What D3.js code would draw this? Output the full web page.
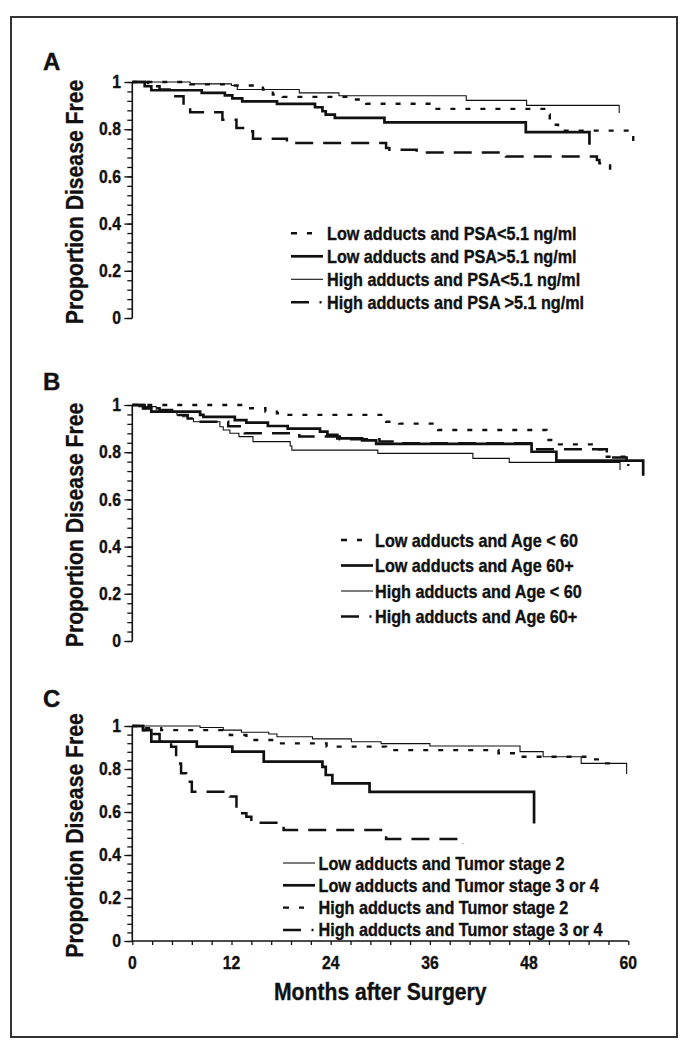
<!DOCTYPE html>
<html><head><meta charset="utf-8">
<script src="https://cdn.jsdelivr.net/npm/d3@7"></script>
<style>body{margin:0;background:#fff}svg{display:block}</style>
</head><body><svg id="c" width="690" height="1050"></svg>
<script>
// ---------- DATA (months after surgery, proportion disease free) ----------
const panelLetters = ["A", "B", "C"];
const xTickValues = [0, 12, 24, 36, 48, 60];
const yTickValues = [0, 0.2, 0.4, 0.6, 0.8, 1];
const yTickLabels = ["0", "0.2", "0.4", "0.6", "0.8", "1"];
const xAxisTitle = "Months after Surgery";
const yAxisTitle = "Proportion Disease Free";

// Panel A
const legendA = ["Low adducts and PSA<5.1 ng/ml", "Low adducts and PSA>5.1 ng/ml",
                 "High adducts and PSA<5.1 ng/ml", "High adducts and PSA >5.1 ng/ml"];
const styleA = ["shortDash", "thick", "thin", "longDash"];
const aLowAdductsLowPSA = [[0,1],[7.0,0.99],[12.0,0.985],[15.8,0.968],[17.0,0.947],[18.2,0.937],[26.9,0.926],[28.3,0.908],[36.2,0.886],[50.0,0.862],[50.5,0.84],[51.0,0.819],[51.5,0.794],[60.6,0.71]];
const aLowAdductsHighPSA = [[0,1],[1.5,0.982],[2.3,0.965],[8.4,0.954],[11.2,0.943],[12.1,0.931],[13.3,0.918],[17.5,0.907],[22.1,0.893],[23.0,0.876],[23.4,0.862],[24.5,0.848],[30.5,0.829],[47.6,0.788],[55.3,0.734]];
const aHighAdductsLowPSA = [[0,1],[7.0,0.992],[12.0,0.985],[12.7,0.968],[20.2,0.954],[25.0,0.942],[40.4,0.922],[47.7,0.901],[58.9,0.869]];
const aHighAdductsHighPSA = [[0,1],[1.9,0.982],[3.3,0.968],[5.0,0.94],[6.2,0.89],[7.0,0.872],[10.9,0.84],[12.6,0.805],[13.8,0.791],[14.6,0.76],[18.7,0.741],[30.7,0.72],[31.1,0.713],[34.4,0.701],[45.2,0.684],[56.2,0.67],[56.5,0.656],[57.8,0.628]];

// Panel B
const legendB = ["Low adducts and Age < 60", "Low adducts and Age 60+",
                 "High adducts and Age < 60", "High adducts and Age 60+"];
const styleB = ["shortDash", "thick", "thin", "longDash"];
const bLowAdductsYoung = [[0,1],[14.1,0.986],[16.1,0.972],[17.5,0.965],[18.7,0.958],[30.7,0.929],[32.3,0.921],[37.0,0.894],[50.1,0.852],[51.0,0.833],[56.2,0.812],[57.4,0.781],[59.8,0.767],[60.0,0.742]];
const bLowAdductsOld = [[0,1],[1.3,0.986],[2.3,0.972],[8.2,0.958],[8.6,0.95],[12.4,0.936],[13.8,0.925],[16.4,0.911],[18.8,0.9],[22.7,0.887],[23.6,0.873],[24.8,0.859],[27.8,0.85],[29.5,0.835],[48.3,0.802],[51.3,0.764],[61.8,0.70]];
const bHighAdductsYoung = [[0,1],[0.8,0.993],[2.9,0.972],[5.4,0.958],[6.1,0.95],[6.7,0.943],[7.4,0.929],[10.6,0.908],[11.0,0.894],[11.8,0.88],[12.9,0.866],[14.6,0.845],[19.1,0.826],[19.3,0.809],[29.7,0.795],[41.2,0.774],[45.6,0.757],[59.0,0.725]];
const bHighAdductsOld = [[0,1],[1.5,0.986],[3.3,0.979],[5.6,0.958],[6.7,0.943],[7.6,0.929],[11.6,0.91],[13.0,0.887],[13.6,0.88],[20.2,0.866],[25.1,0.855],[29.9,0.845],[31.8,0.838],[48.5,0.812],[57.4,0.778],[59.8,0.746]];

// Panel C
const legendC = ["Low adducts and Tumor stage 2", "Low adducts and Tumor stage 3 or 4",
                 "High adducts and Tumor stage 2", "High adducts and Tumor stage 3 or 4"];
const styleC = ["thin", "thick", "shortDash", "longDash"];
const cLowAdductsStage2 = [[0,1],[8.2,0.993],[11.0,0.981],[13.2,0.971],[16.5,0.963],[17.5,0.95],[21.8,0.94],[26.5,0.927],[30.1,0.918],[36.0,0.907],[46.9,0.881],[49.7,0.857],[54.3,0.826],[59.8,0.777]];
const cLowAdductsStage34 = [[0,1],[1.3,0.981],[2.3,0.927],[7.8,0.904],[12.1,0.881],[15.9,0.834],[23.0,0.81],[23.4,0.772],[24.2,0.733],[28.7,0.694],[48.6,0.547]];
const cHighAdductsStage2 = [[0,1],[1.3,0.99],[3.5,0.981],[11.8,0.958],[13.8,0.935],[17.1,0.919],[23.5,0.904],[30.7,0.888],[44.3,0.873],[46.9,0.857],[54.8,0.845],[57.0,0.826],[58.2,0.803]];
const cHighAdductsStage34 = [[0,1],[1.3,0.981],[2.3,0.963],[3.3,0.927],[4.7,0.904],[5.3,0.857],[5.6,0.826],[5.9,0.78],[6.5,0.741],[7.2,0.694],[11.8,0.672],[12.6,0.594],[13.8,0.578],[14.4,0.55],[18.3,0.516],[30.7,0.475],[40.0,0.454]];

// ---------- LAYOUT ----------
const FONT = "'Liberation Sans', Arial, Helvetica, sans-serif";
const SX = 0.9; // condensed look
const svg = d3.select("#c");

svg.append("rect").attr("x", 11).attr("y", 17).attr("width", 666).attr("height", 1020)
  .attr("fill", "none").attr("stroke", "#333").attr("stroke-width", 2);

const x = d3.scaleLinear().domain([0, 60]).range([132.3, 628.3]);

const styles = {
  thin:      {w: 1.1, dash: null},
  thick:     {w: 2.7, dash: null},
  shortDash: {w: 2.4, dash: "5,10"},
  longDash:  {w: 2.5, dash: "18,10"}
};

const panels = [
  {letter: panelLetters[0], top: 82, bottom: 318, series: [aLowAdductsLowPSA, aLowAdductsHighPSA, aHighAdductsLowPSA, aHighAdductsHighPSA],
   styles: styleA, legend: legendA, lx: 291, tx: 327, ly: 233.3, lstep: 23, letterY: 70, xAxis: false},
  {letter: panelLetters[1], top: 405, bottom: 641, series: [bLowAdductsYoung, bLowAdductsOld, bHighAdductsYoung, bHighAdductsOld],
   styles: styleB, legend: legendB, lx: 341, tx: 375, ly: 540, lstep: 25.5, letterY: 390, xAxis: false},
  {letter: panelLetters[2], top: 726, bottom: 941, series: [cLowAdductsStage2, cLowAdductsStage34, cHighAdductsStage2, cHighAdductsStage34],
   styles: styleC, legend: legendC, lx: 283, tx: 318.5, ly: 863, lstep: 22.3, letterY: 707, xAxis: true}
];

function condText(g, tx, ty, str, size, anchor, rotate) {
  const t = g.append("g").attr("transform", `translate(${tx},${ty})` + (rotate ? ` rotate(${rotate})` : "") + ` scale(${SX},1)`);
  return t.append("text").attr("x", 0).attr("y", 0).text(str)
    .attr("font-family", FONT).attr("font-weight", "bold").attr("font-size", size)
    .attr("text-anchor", anchor || "start").attr("fill", "#111")
    .attr("stroke", "#111").attr("stroke-width", 0.35);
}

panels.forEach(p => {
  const y = d3.scaleLinear().domain([0, 1]).range([p.bottom, p.top]);
  const g = svg.append("g");

  // panel letter
  g.append("text").attr("x", 43).attr("y", p.letterY).text(p.letter)
    .attr("font-family", FONT).attr("font-weight", "bold").attr("font-size", 24).attr("fill", "#111")
    .attr("stroke", "#111").attr("stroke-width", 0.4);

  // y axis
  const minor = d3.range(0, 1.0001, 0.04).map(v => +v.toFixed(2));
  g.append("g").attr("transform", "translate(132.3,0)")
    .call(d3.axisLeft(y).tickValues(minor).tickSize(5).tickFormat(""))
    .call(a => a.select(".domain").attr("stroke", "#111").attr("stroke-width", 1.6).attr("d", `M0,${p.bottom}V${p.top}`))
    .call(a => a.selectAll(".tick line").attr("stroke", "#111").attr("stroke-width", 1.3));
  g.append("g").attr("transform", "translate(132.3,0)")
    .call(d3.axisLeft(y).tickValues(yTickValues).tickSize(8).tickFormat(""))
    .call(a => a.select(".domain").remove())
    .call(a => a.selectAll(".tick line").attr("stroke", "#111").attr("stroke-width", 1.3));
  yTickValues.forEach((v, i) => condText(g, 121, y(v) + 6.2, yTickLabels[i], 17.5, "end"));

  // y title
  condText(g, 83, (p.top + p.bottom) / 2 + 2, yAxisTitle, 23.5, "middle", -90);

  // x axis (panel C only)
  if (p.xAxis) {
    const xminor = d3.range(0, 60.001, 2.4).map(v => +v.toFixed(2));
    g.append("g").attr("transform", `translate(0,${p.bottom})`)
      .call(d3.axisBottom(x).tickValues(xminor).tickSize(4).tickFormat(""))
      .call(a => a.select(".domain").attr("stroke", "#111").attr("stroke-width", 1.6).attr("d", `M${x(0)},0H${x(60)}`))
      .call(a => a.selectAll(".tick line").attr("stroke", "#111").attr("stroke-width", 1.3));
    xTickValues.forEach(v => condText(g, x(v), p.bottom + 28, String(v), 17.5, "middle"));
    condText(g, (x(0) + x(60)) / 2, 1000, xAxisTitle, 23.5, "middle");
  }

  // curves
  const line = d3.line().x(d => x(d[0])).y(d => y(d[1])).curve(d3.curveStepAfter);
  p.series.forEach((s, i) => {
    const st = styles[p.styles[i]];
    g.append("path").attr("d", line(s)).attr("fill", "none")
      .attr("stroke", "#111").attr("stroke-width", st.w)
      .attr("stroke-dasharray", st.dash);
  });

  // legend
  p.legend.forEach((lab, i) => {
    const cy = p.ly + i * p.lstep;
    const kind = p.styles[i];
    const st = styles[kind];
    const ln = g.append("line").attr("y1", cy).attr("y2", cy).attr("stroke", "#111").attr("stroke-width", st.w);
    if (kind === "shortDash") {
      ln.attr("x1", p.lx).attr("x2", p.lx + 21).attr("stroke-dasharray", "6,10");
    } else if (kind === "longDash") {
      ln.attr("x1", p.lx).attr("x2", p.lx + 31).attr("stroke-dasharray", "18,10.5,2,20");
    } else {
      ln.attr("x1", p.lx).attr("x2", p.lx + 32);
    }
    condText(g, p.tx, cy + 6.5, lab, 18, "start");
  });
});
</script>
</body></html>
